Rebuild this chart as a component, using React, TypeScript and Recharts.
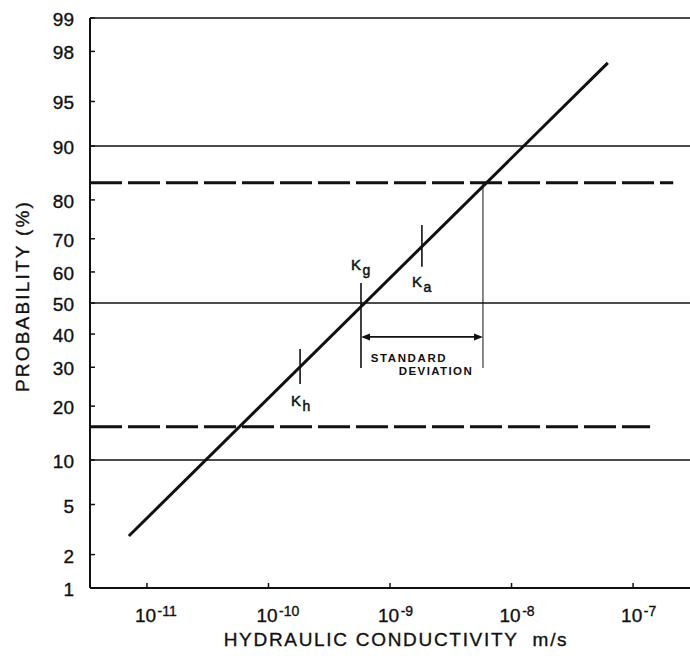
import React from 'react';
import { ComposedChart, Line, XAxis, YAxis, ReferenceLine } from 'recharts';

// ---------- data ----------
// probability axis ticks (%)
const yTickProbs = [1, 2, 5, 10, 20, 30, 40, 50, 60, 70, 80, 90, 95, 98, 99];
// hydraulic conductivity ticks (m/s) and their exponent labels
const xTickValues = [1e-11, 1e-10, 1e-9, 1e-8, 1e-7];
const xTickExponents = ['-11', '-10', '-9', '-8', '-7'];
// visible range of the conductivity axis (m/s)
const xRangeK = [3.4e-12, 2.94e-7];
// solid horizontal reference levels (%)
const solidLevels = [99, 90, 50, 10];
// dashed (± one standard deviation) levels (%) and where they end (m/s)
const dashedLevels = [83.7, 15.6];
const dashedEndK = [2.14e-7, 1.38e-7];
// fitted straight line: end points
const fitK = [7.1e-12, 6.2e-8];
const fitP = [2.86, 97.5];
// markers: conductivity and probability span of each tick
const markerNames = ['Kh', 'Kg', 'Ka'];
const markerK = [1.82e-10, 5.77e-10, 1.83e-9];
const markerLowP = [25.4, 29.8, 61.6];
const markerHighP = [35.4, 56.5, 73.8];
// standard deviation bracket
const sdRightK = 5.82e-9;
const sdArrowP = 39.1;

const FONT = "'Liberation Sans', Arial, sans-serif";
const INK = '#111';
const TXT_STROKE = 0.35;

// inverse of the standard normal CDF (for the probability-paper axis)
function probit(pct: number): number {
  const p = pct / 100;
  const a = [-3.969683028665376e1, 2.209460984245205e2, -2.759285104469687e2, 1.38357751867269e2, -3.066479806614716e1, 2.506628277459239];
  const b = [-5.447609879822406e1, 1.615858368580409e2, -1.556989798598866e2, 6.680131188771972e1, -1.328068155288572e1];
  const c = [-7.784894002430293e-3, -3.223964580411365e-1, -2.400758277161838, -2.549732539343734, 4.374664141464968, 2.938163982698783];
  const d = [7.784695709041462e-3, 3.224671290700398e-1, 2.445134137142996, 3.754408661907416];
  const plow = 0.02425;
  const phigh = 1 - plow;
  if (p < plow) {
    const q = Math.sqrt(-2 * Math.log(p));
    return (((((c[0] * q + c[1]) * q + c[2]) * q + c[3]) * q + c[4]) * q + c[5]) / ((((d[0] * q + d[1]) * q + d[2]) * q + d[3]) * q + 1);
  }
  if (p <= phigh) {
    const q = p - 0.5;
    const r = q * q;
    return ((((((a[0] * r + a[1]) * r + a[2]) * r + a[3]) * r + a[4]) * r + a[5]) * q) / (((((b[0] * r + b[1]) * r + b[2]) * r + b[3]) * r + b[4]) * r + 1);
  }
  const q = Math.sqrt(-2 * Math.log(1 - p));
  return -(((((c[0] * q + c[1]) * q + c[2]) * q + c[3]) * q + c[4]) * q + c[5]) / ((((d[0] * q + d[1]) * q + d[2]) * q + d[3]) * q + 1);
}
const lg = (k: number) => Math.log10(k);

const xDomain = [lg(xRangeK[0]), lg(xRangeK[1])];
const yDomain = [probit(1), probit(99)];
const xTicks = xTickValues.map(lg);
const yTicks = yTickProbs.map(probit);
const fitData = fitK.map((k, i) => ({ x: lg(k), y: probit(fitP[i]) }));

// ---------- custom pieces ----------
function YTick(props: any) {
  const { x, y, index } = props;
  return (
    <g>
      <line x1={x} y1={y} x2={x + 5} y2={y} stroke={INK} strokeWidth={1.5} />
      <text x={x - 16} y={y + 8} textAnchor="end" fontSize={19} fontFamily={FONT} fill={INK} stroke={INK} strokeWidth={TXT_STROKE}>
        {String(yTickProbs[index])}
      </text>
    </g>
  );
}

function XTick(props: any) {
  const { x, y, index } = props;
  return (
    <g>
      <line x1={x} y1={y} x2={x} y2={y - 5} stroke={INK} strokeWidth={1.5} />
      <text x={x - 12} y={y + 34} textAnchor="start" fontSize={19} fontFamily={FONT} fill={INK} stroke={INK} strokeWidth={TXT_STROKE}>
        10
        <tspan fontSize={14} dx={1.5} dy={-6}>
          {xTickExponents[index]}
        </tspan>
      </text>
    </g>
  );
}

function YTitle(props: any) {
  const vb = props.viewBox || { x: 0, y: 18, width: 90, height: 570 };
  const cx = vb.x + 22;
  const cy = vb.y + vb.height / 2 - 7;
  return (
    <text x={cx} y={cy} transform={`rotate(-90 ${cx} ${cy})`} textAnchor="middle" dominantBaseline="central" fontSize={19} letterSpacing={2.2} fontFamily={FONT} fill={INK} stroke={INK} strokeWidth={TXT_STROKE}>
      PROBABILITY (%)
    </text>
  );
}

function XTitle(props: any) {
  const vb = props.viewBox || { x: 90, y: 588, width: 600, height: 76 };
  const cx = vb.x + vb.width / 2 + 6;
  return (
    <text x={cx} y={vb.y + 58} textAnchor="middle" fontSize={19} letterSpacing={1.7} fontFamily={FONT} fill={INK} stroke={INK} strokeWidth={TXT_STROKE}>
      {'HYDRAULIC CONDUCTIVITY\u00A0\u00A0m/s'}
    </text>
  );
}

function makeMarker(name: string, above: boolean, dx: number, dy: number) {
  const main = name.charAt(0);
  const sub = name.slice(1);
  return (p: any) => {
    const { x1, y1, x2, y2 } = p;
    const top = Math.min(y1, y2);
    const bottom = Math.max(y1, y2);
    const ty = above ? top + dy : bottom + dy;
    return (
      <g>
        <line x1={x1} y1={y1} x2={x2} y2={y2} stroke={INK} strokeWidth={1.6} />
        <text x={x1 + dx} y={ty} fontSize={15} fontFamily={FONT} fill={INK} stroke={INK} strokeWidth={0.5}>
          {main}
          <tspan fontSize={14} dx={1.5} dy={5}>
            {sub}
          </tspan>
        </text>
      </g>
    );
  };
}

const markerShapes = [makeMarker(markerNames[0], false, -9, 22), makeMarker(markerNames[1], true, -10, -13), makeMarker(markerNames[2], false, -10, 20)];

const arrowShape = (p: any) => {
  const { x1, y1, x2, y2 } = p;
  const L = 9;
  const h = 3.5;
  const mid = (x1 + x2) / 2;
  return (
    <g>
      <line x1={x1 + L - 1} y1={y1} x2={x2 - L + 1} y2={y2} stroke={INK} strokeWidth={1.6} />
      <polygon points={`${x1},${y1} ${x1 + L},${y1 - h} ${x1 + L},${y1 + h}`} fill={INK} />
      <polygon points={`${x2},${y2} ${x2 - L},${y2 - h} ${x2 - L},${y2 + h}`} fill={INK} />
      <text x={mid - 13} y={y1 + 25} textAnchor="middle" fontSize={11.5} fontWeight="bold" letterSpacing={1.6} fontFamily={FONT} fill={INK}>
        STANDARD
      </text>
      <text x={mid + 14} y={y1 + 38} textAnchor="middle" fontSize={11.5} fontWeight="bold" letterSpacing={1.4} fontFamily={FONT} fill={INK}>
        DEVIATION
      </text>
    </g>
  );
};

export default function App() {
  return (
    <div style={{ position: 'absolute', left: 0, top: 0, width: 690, height: 664, background: '#fff' }}>
      <ComposedChart width={690} height={664} margin={{ top: 18, right: 0, bottom: 0, left: 0 }}>
        <XAxis
          type="number"
          dataKey="x"
          domain={xDomain}
          ticks={xTicks}
          interval={0}
          allowDataOverflow
          height={76}
          tickSize={0}
          tickMargin={0}
          tickLine={false}
          axisLine={{ stroke: INK, strokeWidth: 2 }}
          tick={(p: any) => <XTick {...p} />}
          label={<XTitle />}
        />
        <YAxis
          type="number"
          dataKey="y"
          domain={yDomain}
          ticks={yTicks}
          interval={0}
          allowDataOverflow
          width={90}
          tickSize={0}
          tickMargin={0}
          tickLine={false}
          axisLine={{ stroke: INK, strokeWidth: 2 }}
          tick={(p: any) => <YTick {...p} />}
          label={<YTitle />}
        />
        {solidLevels.map((lv) => (
          <ReferenceLine key={'s' + lv} y={probit(lv)} stroke={INK} strokeWidth={1.6} ifOverflow="extendDomain" />
        ))}
        {dashedLevels.map((lv, i) => (
          <ReferenceLine
            key={'d' + lv}
            segment={[
              { x: xDomain[0], y: probit(lv) },
              { x: lg(dashedEndK[i]), y: probit(lv) },
            ]}
            stroke={INK}
            strokeWidth={3}
            strokeDasharray="32 6"
          />
        ))}
        {markerNames.map((n, i) => (
          <ReferenceLine
            key={'m' + n}
            segment={[
              { x: lg(markerK[i]), y: probit(markerLowP[i]) },
              { x: lg(markerK[i]), y: probit(markerHighP[i]) },
            ]}
            shape={markerShapes[i]}
          />
        ))}
        <ReferenceLine
          segment={[
            { x: lg(sdRightK), y: probit(markerLowP[1]) },
            { x: lg(sdRightK), y: probit(dashedLevels[0]) },
          ]}
          stroke={INK}
          strokeWidth={1}
        />
        <ReferenceLine
          segment={[
            { x: lg(markerK[1]), y: probit(sdArrowP) },
            { x: lg(sdRightK), y: probit(sdArrowP) },
          ]}
          shape={arrowShape}
        />
        <Line data={fitData} dataKey="y" type="linear" stroke={INK} strokeWidth={3} dot={false} isAnimationActive={false} />
      </ComposedChart>
    </div>
  );
}
